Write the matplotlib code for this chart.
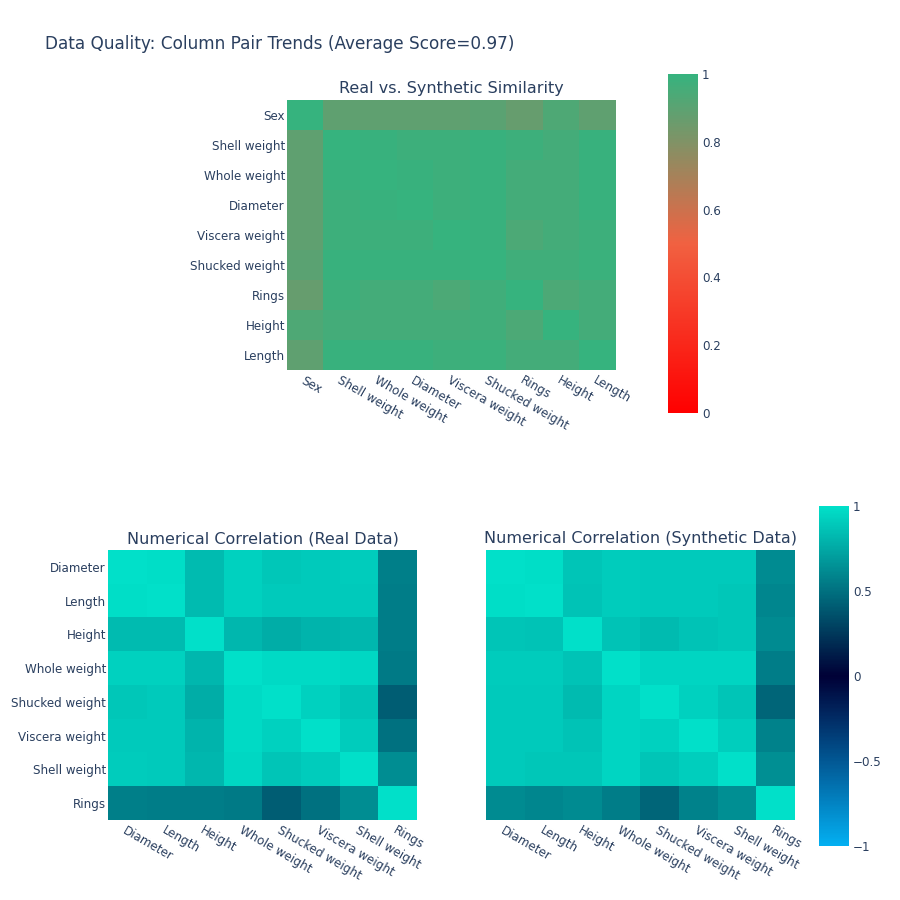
import numpy as np
import matplotlib
matplotlib.use("Agg")
import matplotlib.pyplot as plt
from matplotlib.colors import LinearSegmentedColormap

# column order used by each panel
sim_columns = ["Sex", "Shell weight", "Whole weight", "Diameter", "Viscera weight",
               "Shucked weight", "Rings", "Height", "Length"]
corr_columns = ["Diameter", "Length", "Height", "Whole weight", "Shucked weight",
                "Viscera weight", "Shell weight", "Rings"]

similarity = [
    [1.00, 0.89, 0.89, 0.89, 0.89, 0.90, 0.87, 0.93, 0.89],
    [0.89, 1.00, 0.99, 0.98, 0.98, 0.99, 0.98, 0.96, 0.99],
    [0.89, 0.99, 1.00, 0.99, 0.98, 0.99, 0.96, 0.96, 0.99],
    [0.89, 0.98, 0.99, 1.00, 0.98, 0.99, 0.96, 0.96, 0.99],
    [0.89, 0.98, 0.98, 0.98, 1.00, 0.99, 0.94, 0.96, 0.98],
    [0.90, 0.99, 0.99, 0.99, 0.99, 1.00, 0.97, 0.97, 0.985],
    [0.87, 0.98, 0.96, 0.96, 0.94, 0.97, 1.00, 0.94, 0.96],
    [0.93, 0.96, 0.96, 0.96, 0.96, 0.97, 0.94, 1.00, 0.96],
    [0.89, 0.99, 0.99, 0.99, 0.98, 0.985, 0.96, 0.96, 1.00],
]

corr_real = [
    [1.00, 0.99, 0.83, 0.93, 0.89, 0.90, 0.91, 0.57],
    [0.99, 1.00, 0.83, 0.93, 0.90, 0.90, 0.90, 0.56],
    [0.83, 0.83, 1.00, 0.82, 0.77, 0.80, 0.82, 0.56],
    [0.93, 0.93, 0.82, 1.00, 0.97, 0.97, 0.96, 0.54],
    [0.89, 0.90, 0.77, 0.97, 1.00, 0.93, 0.88, 0.42],
    [0.90, 0.90, 0.80, 0.97, 0.93, 1.00, 0.91, 0.50],
    [0.91, 0.90, 0.82, 0.96, 0.88, 0.91, 1.00, 0.63],
    [0.57, 0.56, 0.56, 0.54, 0.42, 0.50, 0.63, 1.00],
]

corr_synth = [
    [1.00, 0.99, 0.88, 0.91, 0.90, 0.90, 0.90, 0.62],
    [0.99, 1.00, 0.87, 0.91, 0.90, 0.90, 0.89, 0.60],
    [0.88, 0.87, 1.00, 0.87, 0.83, 0.87, 0.89, 0.62],
    [0.91, 0.91, 0.87, 1.00, 0.95, 0.95, 0.95, 0.56],
    [0.90, 0.90, 0.83, 0.95, 1.00, 0.93, 0.88, 0.45],
    [0.90, 0.90, 0.87, 0.95, 0.93, 1.00, 0.92, 0.58],
    [0.90, 0.89, 0.89, 0.95, 0.88, 0.92, 1.00, 0.64],
    [0.62, 0.60, 0.62, 0.56, 0.45, 0.58, 0.64, 1.00],
]

TEXT = "#2a3f5f"
plt.rcParams["font.family"] = ["DejaVu Sans"]

sim_cmap = LinearSegmentedColormap.from_list(
    "sim", [(0, "#FF0000"), (0.5, "#F16141"), (1, "#36B37E")])
corr_cmap = LinearSegmentedColormap.from_list(
    "corr", [(0, "#03AFF1"), (0.5, "#000036"), (1, "#01E0C9")])

fig = plt.figure(figsize=(9, 9), dpi=100)
fig.text(45 / 900, 1 - 44 / 900, "Data Quality: Column Pair Trends (Average Score=0.97)",
         fontsize=12.2, color=TEXT, va="center", ha="left")


def heatmap(ax, data, labels, cmap, vmin, vmax, title, show_y=True):
    im = ax.imshow(np.array(data), cmap=cmap, vmin=vmin, vmax=vmax,
                   aspect="auto", interpolation="nearest")
    n = len(labels)
    ax.set_xticks(np.arange(n))
    ax.set_xticklabels(labels, rotation=-30, ha="left", va="top",
                       rotation_mode="anchor", fontsize=8.6, color=TEXT)
    ax.set_yticks(np.arange(n))
    if show_y:
        ax.set_yticklabels(labels, fontsize=8.6, color=TEXT)
    else:
        ax.set_yticklabels([])
    ax.tick_params(axis="y", length=0, pad=1.5)
    ax.tick_params(axis="x", length=0, pad=3)
    for s in ax.spines.values():
        s.set_visible(False)
    ax.set_title(title, fontsize=11.5, color=TEXT, pad=5)
    return im


def colorbar(im, cax, ticks, labels):
    cb = fig.colorbar(im, cax=cax)
    cb.outline.set_visible(False)
    cb.set_ticks(ticks)
    cb.set_ticklabels(labels)
    cax.tick_params(length=0, pad=3, labelsize=8.6, labelcolor=TEXT)
    return cb


ax_sim = fig.add_axes([287 / 900, 1 - 370 / 900, 329 / 900, 270 / 900])
im_sim = heatmap(ax_sim, similarity, sim_columns, sim_cmap, 0, 1,
                 "Real vs. Synthetic Similarity")
cax_sim = fig.add_axes([668 / 900, 1 - 413 / 900, 30 / 900, 339 / 900])
colorbar(im_sim, cax_sim, [0, 0.2, 0.4, 0.6, 0.8, 1],
         ["0", "0.2", "0.4", "0.6", "0.8", "1"])

ax_real = fig.add_axes([108 / 900, 1 - 820 / 900, 309 / 900, 270 / 900])
im_real = heatmap(ax_real, corr_real, corr_columns, corr_cmap, -1, 1,
                  "Numerical Correlation (Real Data)")

ax_syn = fig.add_axes([486 / 900, 1 - 820 / 900, 309 / 900, 270 / 900])
heatmap(ax_syn, corr_synth, corr_columns, corr_cmap, -1, 1,
        "Numerical Correlation (Synthetic Data)", show_y=False)

cax_corr = fig.add_axes([819 / 900, 1 - 846 / 900, 30 / 900, 340 / 900])
colorbar(im_real, cax_corr, [-1, -0.5, 0, 0.5, 1],
         ["\u22121", "\u22120.5", "0", "0.5", "1"])

fig.savefig("out.png", dpi=100)
